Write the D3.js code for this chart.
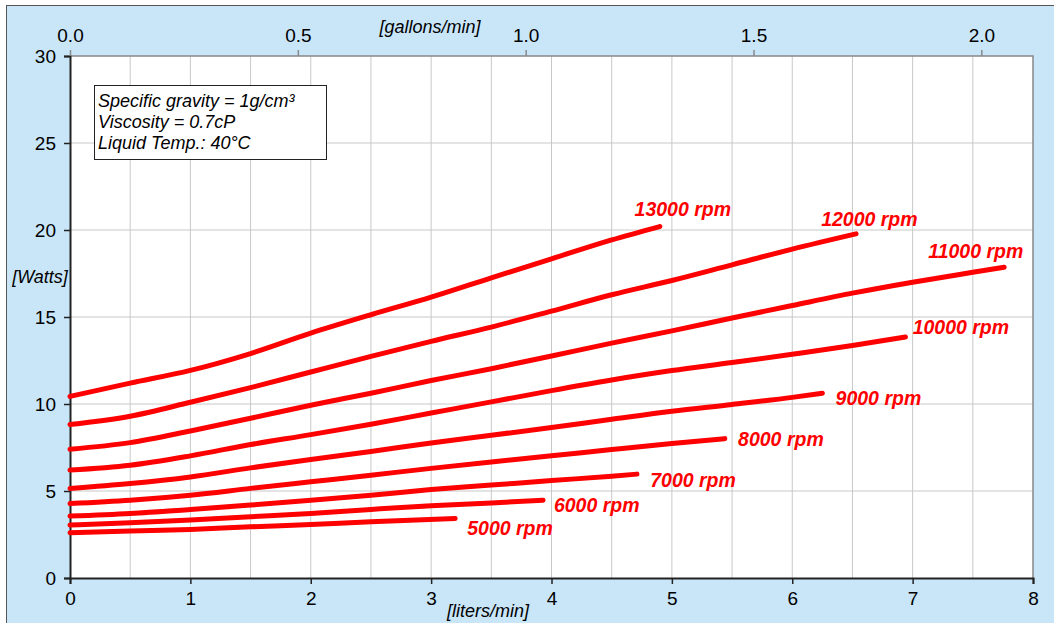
<!DOCTYPE html>
<html>
<head>
<meta charset="utf-8">
<script src="https://cdn.jsdelivr.net/npm/d3@7"></script>
<style>
  body { margin: 0; background: #fff; }
  svg { display: block; font-family: Arial, "Liberation Sans", sans-serif; }
  .grid line { stroke: #c8c8c8; stroke-width: 1; }
  .tick text { font-size: 19px; fill: #000; }
</style>
</head>
<body>
<div id="chart"></div>
<script>
// flow in liters/min, power in watts, one curve per speed
const speeds = ['5000 rpm', '6000 rpm', '7000 rpm', '8000 rpm', '9000 rpm',
  '10000 rpm', '11000 rpm', '12000 rpm', '13000 rpm'];

const flow5000 = [0, 0.5, 1, 1.5, 2, 2.5, 3.2];
const watts5000 = [2.6, 2.7, 2.79, 2.94, 3.08, 3.23, 3.42];
const flow6000 = [0, 0.5, 1, 1.5, 2, 2.5, 3, 3.5, 3.93];
const watts6000 = [3.04, 3.17, 3.33, 3.52, 3.71, 3.94, 4.15, 4.31, 4.47];
const flow7000 = [0, 0.5, 1, 1.5, 2, 2.5, 3, 3.5, 4, 4.5, 4.71];
const watts7000 = [3.56, 3.71, 3.94, 4.19, 4.47, 4.76, 5.08, 5.34, 5.6, 5.85, 5.97];
const flow8000 = [0, 0.5, 1, 1.5, 2, 2.5, 3, 3.5, 4, 4.5, 5, 5.44];
const watts8000 = [4.28, 4.47, 4.76, 5.15, 5.53, 5.91, 6.3, 6.67, 7.02, 7.38, 7.73, 8.01];
const flow9000 = [0, 0.5, 1, 1.5, 2, 2.5, 3, 3.5, 4, 4.5, 5, 5.5, 6, 6.25];
const watts9000 = [5.15, 5.43, 5.81, 6.33, 6.81, 7.27, 7.76, 8.2, 8.65, 9.12, 9.58, 9.97, 10.38, 10.62];
const flow10000 = [0, 0.5, 1, 1.5, 2, 2.5, 3, 3.5, 4, 4.5, 5, 5.5, 6, 6.5, 6.94];
const watts10000 = [6.2, 6.48, 7.02, 7.67, 8.24, 8.84, 9.48, 10.12, 10.77, 11.38, 11.92, 12.38, 12.86, 13.36, 13.85];
const flow11000 = [0, 0.5, 1, 1.5, 2, 2.5, 3, 3.5, 4, 4.5, 5, 5.5, 6, 6.5, 7, 7.5, 7.76];
const watts11000 = [7.4, 7.78, 8.45, 9.18, 9.93, 10.62, 11.35, 12.03, 12.76, 13.5, 14.2, 14.94, 15.66, 16.37, 17.0, 17.57, 17.86];
const flow12000 = [0, 0.5, 1, 1.5, 2, 2.5, 3, 3.5, 4, 4.5, 5, 5.5, 6, 6.53];
const watts12000 = [8.82, 9.3, 10.1, 10.94, 11.84, 12.74, 13.6, 14.42, 15.34, 16.28, 17.1, 18.0, 18.9, 19.78];
const flow13000 = [0, 0.5, 1, 1.5, 2, 2.5, 3, 3.5, 4, 4.5, 4.9];
const watts13000 = [10.44, 11.2, 11.93, 12.9, 14.07, 15.13, 16.14, 17.25, 18.34, 19.43, 20.2];

const flows = [flow5000, flow6000, flow7000, flow8000, flow9000, flow10000, flow11000, flow12000, flow13000];
const watts = [watts5000, watts6000, watts7000, watts8000, watts9000, watts10000, watts11000, watts12000, watts13000];

// where each speed label sits, in [liters/min, watts]
const labelFlow = [3.3, 4.02, 4.82, 5.55, 6.36, 7.0, 7.13, 6.24, 4.69];
const labelWatts = [2.46, 3.78, 5.24, 7.57, 9.92, 14.04, 18.4, 20.25, 20.83];

const litersTicks = [0, 1, 2, 3, 4, 5, 6, 7, 8];
const gallonTicks = [0, 0.5, 1.0, 1.5, 2.0];
const wattTicks = [0, 5, 10, 15, 20, 25, 30];
const notes = ['Specific gravity = 1g/cm³', 'Viscosity = 0.7cP', 'Liquid Temp.: 40°C'];

const litersPerGallon = 3.78541;

const W = 1054, H = 623;
const margin = { left: 70, right: 21, top: 56, bottom: 45 };

const svg = d3.select('#chart').append('svg')
  .attr('width', W)
  .attr('height', H);

// light blue frame
svg.append('rect')
  .attr('x', 6.5).attr('y', 5.5)
  .attr('width', W).attr('height', H)
  .attr('fill', '#c9e6f9')
  .attr('stroke', '#555')
  .attr('stroke-width', 1);

const x = d3.scaleLinear().domain([0, 8]).range([margin.left, W - margin.right]);
const xg = d3.scaleLinear().domain([0, 8 / litersPerGallon]).range(x.range());
const y = d3.scaleLinear().domain([0, 30]).range([H - margin.bottom, margin.top]);

// plot area
svg.append('rect')
  .attr('x', x(0)).attr('y', y(30))
  .attr('width', x(8) - x(0)).attr('height', y(0) - y(30))
  .attr('fill', '#fff');

// grid every half liter and every 5 watts
const grid = svg.append('g').attr('class', 'grid');
grid.selectAll('line.v')
  .data(d3.range(0.5, 8, 0.5))
  .enter().append('line')
  .attr('class', 'v')
  .attr('x1', d => x(d)).attr('x2', d => x(d))
  .attr('y1', y(0)).attr('y2', y(30));
grid.selectAll('line.h')
  .data(wattTicks.slice(1, -1))
  .enter().append('line')
  .attr('class', 'h')
  .attr('x1', x(0)).attr('x2', x(8))
  .attr('y1', d => y(d)).attr('y2', d => y(d));

// top and right border
svg.append('path')
  .attr('d', `M${x(0)},${y(30)}H${x(8)}V${y(0)}`)
  .attr('fill', 'none')
  .attr('stroke', '#888')
  .attr('stroke-width', 1.5);

// axes
const axisBottom = svg.append('g')
  .attr('transform', `translate(0,${y(0)})`)
  .call(d3.axisBottom(x).tickValues(litersTicks).tickSize(6).tickPadding(8).tickFormat(d3.format('d')));
const axisLeft = svg.append('g')
  .attr('transform', `translate(${x(0)},0)`)
  .call(d3.axisLeft(y).tickValues(wattTicks).tickSize(6).tickPadding(8).tickFormat(d3.format('d')));
const axisTop = svg.append('g')
  .attr('transform', `translate(0,${y(30)})`)
  .call(d3.axisTop(xg).tickValues(gallonTicks).tickSize(6).tickPadding(8).tickFormat(d3.format('.1f')));

[axisBottom, axisLeft].forEach(a => {
  a.select('.domain').attr('stroke', '#222').attr('stroke-width', 2);
  a.selectAll('.tick line').attr('stroke', '#222').attr('stroke-width', 1.5);
  a.selectAll('text').style('font-size', '19px');
});
axisTop.select('.domain').remove();
axisTop.selectAll('.tick line').attr('stroke', '#888').attr('stroke-width', 1.5);
axisTop.selectAll('text').style('font-size', '19px');

// axis titles
svg.append('text')
  .attr('x', 430).attr('y', 33)
  .attr('text-anchor', 'middle')
  .style('font-size', '18px').style('font-style', 'italic')
  .text('[gallons/min]');
svg.append('text')
  .attr('x', 488).attr('y', 617)
  .attr('text-anchor', 'middle')
  .style('font-size', '18px').style('font-style', 'italic')
  .text('[liters/min]');
svg.append('text')
  .attr('x', 40).attr('y', 283)
  .attr('text-anchor', 'middle')
  .style('font-size', '18px').style('font-style', 'italic')
  .text('[Watts]');

// curves
const line = d3.line()
  .x(d => x(d[0]))
  .y(d => y(d[1]))
  .curve(d3.curveMonotoneX);

const series = speeds.map((name, i) => ({
  name,
  points: flows[i].map((f, j) => [f, watts[i][j]]),
  label: [labelFlow[i], labelWatts[i]]
}));

const curves = svg.append('g').attr('id', 'curves');
curves.selectAll('path')
  .data(series)
  .enter().append('path')
  .attr('d', d => line(d.points))
  .attr('fill', 'none')
  .attr('stroke', '#ff0000')
  .attr('stroke-width', 5)
  .attr('stroke-linecap', 'round');

curves.selectAll('text')
  .data(series)
  .enter().append('text')
  .attr('x', d => x(d.label[0]))
  .attr('y', d => y(d.label[1]))
  .attr('fill', '#ff0000')
  .style('font-size', '19.5px')
  .style('font-weight', 'bold')
  .style('font-style', 'italic')
  .text(d => d.name);

// info box
const box = svg.append('g').attr('transform', 'translate(94,85)');
box.append('rect')
  .attr('x', 0.5).attr('y', 0.5)
  .attr('width', 232).attr('height', 74)
  .attr('fill', '#fff')
  .attr('stroke', '#222')
  .attr('stroke-width', 1);
box.selectAll('text')
  .data(notes)
  .enter().append('text')
  .attr('x', 4)
  .attr('y', (d, i) => 22 + i * 21)
  .style('font-size', '18px')
  .style('font-style', 'italic')
  .text(d => d);
</script>
</body>
</html>
